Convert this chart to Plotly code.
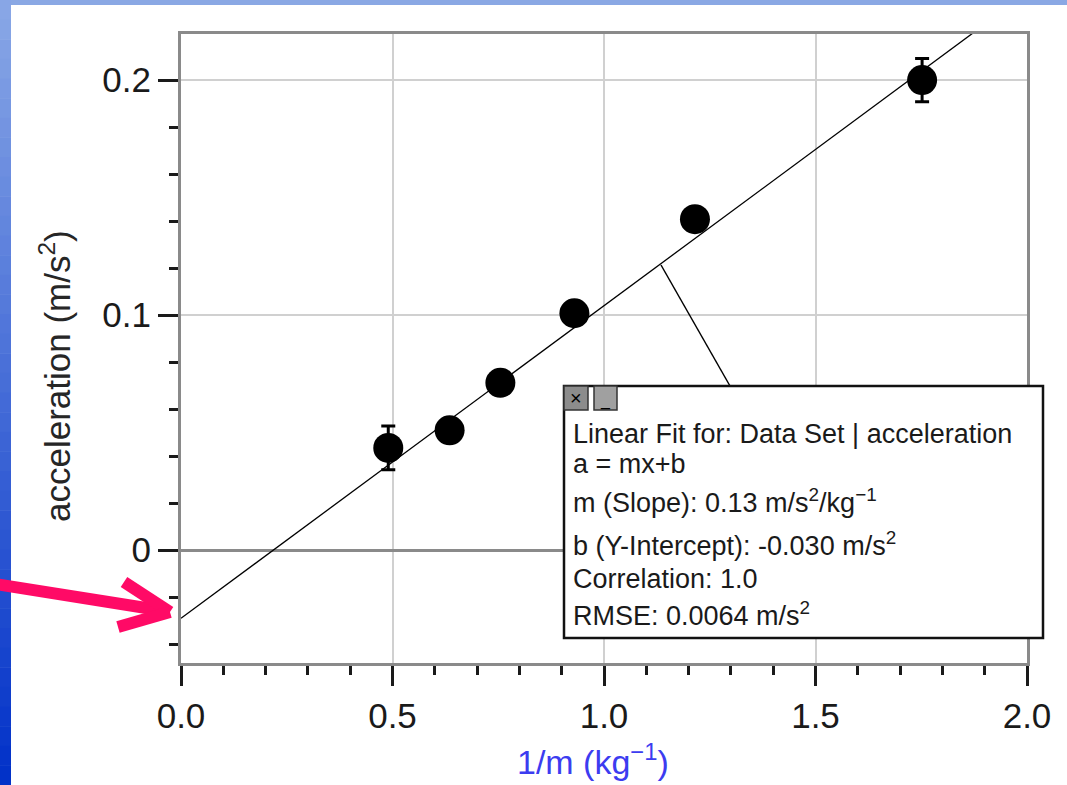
import plotly.graph_objects as go

# ---- data ----
inv_mass = [0.49, 0.635, 0.755, 0.93, 1.215, 1.752]
accel = [0.0435, 0.051, 0.0712, 0.1008, 0.1408, 0.2]
accel_err = [0.0093, 0.004, 0.004, 0.004, 0.004, 0.0092]
fit_slope = 0.133
fit_intercept = -0.029
fit_x = [0.0, 2.0]
fit_y = [fit_slope * v + fit_intercept for v in fit_x]

box_lines = [
    "Linear Fit for: Data Set | acceleration",
    "a = mx+b",
    "m (Slope): 0.13 m/s<sup>2</sup>/kg<sup>−1</sup>",
    "b (Y-Intercept): -0.030 m/s<sup>2</sup>",
    "Correlation: 1.0",
    "RMSE: 0.0064 m/s<sup>2</sup>",
]

W, H = 1067, 785
L, T, PW, PH = 181, 34, 846, 629


def PX(x):
    return (x - L) / PW


def PY(y):
    return (T + PH - y) / PH


FONT = "Liberation Sans, Arial, sans-serif"

fig = go.Figure()
fig.add_trace(go.Scatter(x=fit_x, y=fit_y, mode="lines",
                         line=dict(color="black", width=1.3),
                         hoverinfo="skip", showlegend=False))
fig.add_trace(go.Scatter(x=inv_mass, y=accel, mode="markers",
                         marker=dict(color="black", size=30, line=dict(width=0)),
                         error_y=dict(type="data", array=accel_err, color="black",
                                      thickness=3, width=7),
                         showlegend=False))

shapes = []
# slide background strips
shapes.append(dict(type="rect", xref="paper", yref="paper", x0=PX(0), x1=PX(W),
                   y0=PY(5), y1=PY(0), fillcolor="#8aa8e4", line=dict(width=0), layer="below"))
n = 40
c0 = (138, 168, 230)
c1 = (0, 48, 200)
for i in range(n):
    t = (i + 0.5) / n
    col = tuple(int(round(c0[k] + (c1[k] - c0[k]) * t)) for k in range(3))
    shapes.append(dict(type="rect", xref="paper", yref="paper", x0=PX(0), x1=PX(11),
                       y0=PY((i + 1) * H / n + 0.5), y1=PY(i * H / n),
                       fillcolor="rgb(%d,%d,%d)" % col, line=dict(width=0), layer="below"))
# pink arrow
pink = "#ff0a66"
shapes.append(dict(type="line", xref="paper", yref="paper", x0=PX(-5), y0=PY(584),
                   x1=PX(165), y1=PY(611), line=dict(color=pink, width=12)))
shapes.append(dict(type="line", xref="paper", yref="paper", x0=PX(124), y0=PY(582),
                   x1=PX(170), y1=PY(612), line=dict(color=pink, width=12)))
shapes.append(dict(type="line", xref="paper", yref="paper", x0=PX(118), y0=PY(627),
                   x1=PX(170), y1=PY(612), line=dict(color=pink, width=12)))
# leader line
shapes.append(dict(type="line", xref="paper", yref="paper", x0=PX(661), y0=PY(265),
                   x1=PX(730), y1=PY(386), line=dict(color="black", width=1.5)))
# fit box
shapes.append(dict(type="rect", xref="paper", yref="paper", x0=PX(564), x1=PX(1043),
                   y0=PY(638), y1=PY(386), fillcolor="white",
                   line=dict(color="#111111", width=2.5), layer="above"))
# buttons
shapes.append(dict(type="rect", xref="paper", yref="paper", x0=PX(564), x1=PX(588),
                   y0=PY(410), y1=PY(386), fillcolor="#8c8c8c",
                   line=dict(color="#333333", width=1.5), layer="above"))
shapes.append(dict(type="rect", xref="paper", yref="paper", x0=PX(594), x1=PX(617),
                   y0=PY(410), y1=PY(386), fillcolor="#a0a0a0",
                   line=dict(color="#333333", width=1.5), layer="above"))

annotations = []
annotations.append(dict(xref="paper", yref="paper", x=PX(576), y=PY(398), text="×",
                        showarrow=False, font=dict(family=FONT, size=20, color="black"),
                        xanchor="center", yanchor="middle"))
annotations.append(dict(xref="paper", yref="paper", x=PX(605.5), y=PY(401), text="_",
                        showarrow=False, font=dict(family=FONT, size=16, color="black"),
                        xanchor="center", yanchor="middle"))
baselines = [443, 473, 512, 555, 588, 625]
fs = 27
for txt, bl in zip(box_lines, baselines):
    annotations.append(dict(xref="paper", yref="paper", x=PX(571), y=PY(bl + 0.212 * fs + 2),
                            text=txt, showarrow=False, xanchor="left", yanchor="bottom",
                            font=dict(family=FONT, size=fs, color="#1a1a1a")))
# axis titles
annotations.append(dict(xref="paper", yref="paper", x=PX(55), y=PY(376),
                        text="acceleration (m/s<sup>2</sup>)", textangle=-90, showarrow=False,
                        xanchor="center", yanchor="middle",
                        font=dict(family=FONT, size=35, color="#262626")))
annotations.append(dict(xref="paper", yref="paper", x=PX(593), y=PY(783),
                        text="1/m (kg<sup>−1</sup>)", showarrow=False,
                        xanchor="center", yanchor="bottom",
                        font=dict(family=FONT, size=34, color="#3c3cf0")))

fig.update_layout(
    width=W, height=H,
    margin=dict(l=L, r=W - L - PW, t=T, b=H - T - PH, pad=0),
    paper_bgcolor="white", plot_bgcolor="white",
    showlegend=False, hovermode=False,
    shapes=shapes, annotations=annotations,
    font=dict(family=FONT, color="#1a1a1a"),
)
fig.update_xaxes(
    range=[0, 2.0], tick0=0, dtick=0.5, tickformat=".1f",
    showgrid=True, gridcolor="#d0d0d0", gridwidth=2,
    showline=True, linecolor="#8a8a8a", linewidth=3, mirror=True,
    zeroline=False,
    ticks="outside", ticklen=20, tickwidth=2.5, tickcolor="#1a1a1a",
    tickfont=dict(family=FONT, size=35, color="#1a1a1a"),
    minor=dict(dtick=0.1, tick0=0, ticks="outside", ticklen=9, tickwidth=2.5,
               tickcolor="#1a1a1a", showgrid=False),
)
fig.update_yaxes(
    range=[-0.048, 0.2196], tick0=0, dtick=0.1,
    showgrid=True, gridcolor="#d0d0d0", gridwidth=2,
    showline=True, linecolor="#8a8a8a", linewidth=3, mirror=True,
    zeroline=True, zerolinecolor="#8a8a8a", zerolinewidth=3,
    ticks="outside", ticklen=20, tickwidth=2.5, tickcolor="#1a1a1a",
    tickfont=dict(family=FONT, size=35, color="#1a1a1a"),
    minor=dict(dtick=0.02, tick0=0, ticks="outside", ticklen=9, tickwidth=2.5,
               tickcolor="#1a1a1a", showgrid=False),
)

fig.write_html("out.html")
